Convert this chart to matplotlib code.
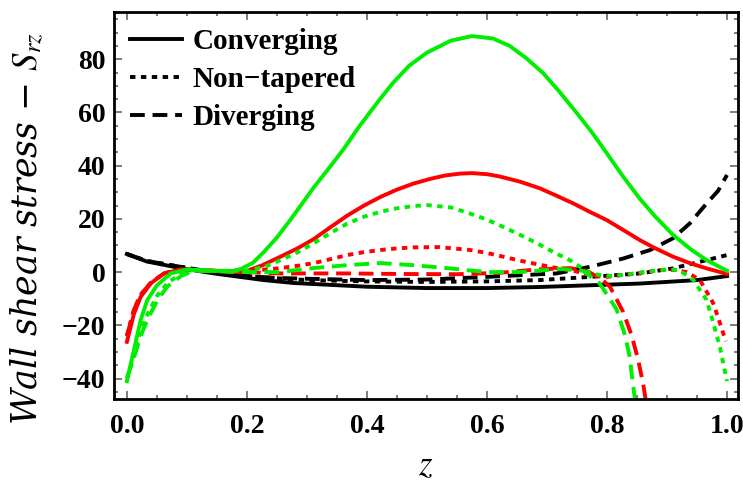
import numpy as np
import matplotlib.pyplot as plt
from matplotlib.ticker import MultipleLocator

# ---- data ----
# green
zg_conv = [0, 0.012, 0.023, 0.034, 0.05, 0.073, 0.1, 0.145, 0.175, 0.19, 0.21, 0.228, 0.25,
           0.273, 0.312, 0.34, 0.362, 0.388, 0.42, 0.443, 0.47, 0.5, 0.54, 0.575, 0.61, 0.638,
           0.665, 0.694, 0.72, 0.75, 0.775, 0.794, 0.825, 0.855, 0.88, 0.91, 0.94, 0.966, 1.0]
vg_conv = [-41, -29, -18, -10.5, -5, -0.5, 1, 0.5, 0.3, 1.2, 3.5, 7.5, 13, 19.8, 32, 40, 46.5,
           55, 64.5, 71, 77.5, 82.5, 87, 88.7, 87.8, 85, 80.5, 74.7, 68, 59.7, 52.5, 46.5,
           36.5, 27.5, 21, 14, 8.5, 4.5, 0.5]
zg_flat = [0, 0.012, 0.023, 0.034, 0.05, 0.067, 0.09, 0.11, 0.15, 0.2, 0.23, 0.256, 0.285,
           0.312, 0.34, 0.367, 0.395, 0.423, 0.45, 0.478, 0.5, 0.54, 0.572, 0.6, 0.627, 0.655,
           0.683, 0.71, 0.738, 0.772, 0.8, 0.83, 0.86, 0.9, 0.92, 0.944, 0.966, 0.977, 0.988,
           1.0]
vg_flat = [-40, -31, -22, -16, -9, -4.3, -0.5, 0.8, 0.5, 0.5, 2, 4.5, 7.5, 10.9, 14.8, 18.2,
           20.8, 22.7, 24, 24.8, 25.2, 24.3, 22, 19.7, 17, 14, 10.9, 7.6, 4.5, -0.5, -1.5, -1,
           0, 1, 0.8, -3, -10.5, -19, -28, -41]
zg_div = [0, 0.012, 0.023, 0.034, 0.05, 0.067, 0.09, 0.11, 0.15, 0.2, 0.255, 0.31, 0.367,
          0.422, 0.477, 0.533, 0.6, 0.655, 0.722, 0.76, 0.78, 0.788, 0.816, 0.83, 0.838,
          0.843, 0.848]
vg_div = [-40, -32, -24, -18, -11, -5.5, -1.5, 0.5, 0.3, 0, 0, 1.5, 2.6, 3.4, 2.6, 1.5, 0,
          0, 1.2, 0.5, -3, -4.3, -14, -23.7, -32, -41.7, -50]

# red
zr_conv = [0, 0.012, 0.023, 0.04, 0.062, 0.09, 0.145, 0.19, 0.2, 0.225, 0.256, 0.285, 0.312,
           0.34, 0.367, 0.395, 0.423, 0.45, 0.478, 0.505, 0.53, 0.555, 0.575, 0.6, 0.62,
           0.655, 0.688, 0.715, 0.744, 0.77, 0.8, 0.828, 0.855, 0.88, 0.91, 0.94, 0.966, 1.0]
vr_conv = [-26.2, -15.5, -9.3, -4.2, -0.5, 1, 0.5, 0, 0.5, 2.5, 5.8, 9, 12.5, 17, 21.2, 25,
           28.3, 31, 33.3, 35, 36.3, 37, 37.2, 36.8, 36, 34, 31.5, 28.8, 25.8, 22.8, 19.5,
           15.7, 12, 9, 5.8, 3.2, 1.4, -0.7]
zr_flat = [0, 0.012, 0.023, 0.04, 0.062, 0.09, 0.15, 0.2, 0.256, 0.285, 0.312, 0.34, 0.367,
           0.395, 0.423, 0.45, 0.478, 0.52, 0.572, 0.6, 0.627, 0.655, 0.683, 0.714, 0.744,
           0.78, 0.8, 0.85, 0.89, 0.915, 0.933, 0.955, 0.977, 0.988, 0.998]
vr_flat = [-24, -14, -8.5, -4, -0.5, 1, 0.5, 0.3, 1.5, 2.4, 3.4, 4.9, 6.4, 7.5, 8.3, 8.9,
           9.3, 9.4, 8.3, 7.2, 5.8, 4.3, 3, 1.6, 0.5, -1.5, -1.8, -0.5, 0.8, 0.8, 0, -3,
           -11.7, -19, -26]
zr_div = [0, 0.012, 0.023, 0.04, 0.062, 0.09, 0.15, 0.2, 0.255, 0.367, 0.45, 0.55, 0.62,
          0.683, 0.738, 0.766, 0.79, 0.805, 0.827, 0.841, 0.852, 0.86, 0.866]
vr_div = [-24, -14, -8.5, -4, -0.5, 1, 0.3, 0, -0.5, -0.5, -0.7, -0.8, -0.3, 1, 1.5, 0.5,
          -2.5, -5.5, -15, -23.7, -33, -41.7, -50]

# black
zk_conv = [0, 0.033, 0.089, 0.145, 0.228, 0.278, 0.4, 0.5, 0.6, 0.688, 0.855, 0.95, 1.0]
vk_conv = [6.8, 4, 1.5, -0.5, -3, -4.1, -5.5, -6, -6, -5.6, -4.3, -3, -1.5]
zk_flat = [0, 0.033, 0.089, 0.145, 0.2, 0.25, 0.3, 0.4, 0.5, 0.6, 0.688, 0.772, 0.855, 0.91,
           0.966, 1.0]
vk_flat = [6.8, 4.2, 2, 0, -1.5, -2.3, -3, -3.5, -3.7, -3.5, -3, -1.8, -0.5, 1.4, 4.5, 6.4]
zk_div = [0, 0.033, 0.089, 0.145, 0.2, 0.25, 0.3, 0.4, 0.5, 0.6, 0.716, 0.772, 0.827, 0.872,
          0.91, 0.938, 0.966, 0.985, 1.0]
vk_div = [6.8, 4.2, 2, 0, -1.5, -2.2, -2.5, -3, -2.8, -1.8, -0.5, 2, 5.1, 8.3, 12.7, 18.3,
          25.8, 30.5, 36.5]

labels = ['Converging', 'Non\u2212tapered', 'Diverging']

GREEN = '#00ee00'
RED = '#ff0000'
BLACK = '#000000'

plt.rcParams['font.family'] = ['Liberation Serif', 'DejaVu Serif']
plt.rcParams['mathtext.fontset'] = 'stix'

fig = plt.figure(figsize=(7.43, 4.86), dpi=100)
ax = fig.add_axes([0.153, 0.179, 0.840, 0.796])

lw = 2.8
dot = (0, (1.4, 1.4))
dash = (0, (3.8, 2.0))

ax.plot(zk_conv, vk_conv, color=BLACK, lw=lw, label=labels[0])
ax.plot(zk_flat, vk_flat, color=BLACK, lw=lw, ls=dot, label=labels[1])
ax.plot(zk_div, vk_div, color=BLACK, lw=lw, ls=dash, label=labels[2])

ax.plot(zr_conv, vr_conv, color=RED, lw=lw)
ax.plot(zr_flat, vr_flat, color=RED, lw=lw, ls=dot)
ax.plot(zr_div, vr_div, color=RED, lw=lw, ls=dash)

ax.plot(zg_conv, vg_conv, color=GREEN, lw=lw)
ax.plot(zg_flat, vg_flat, color=GREEN, lw=lw, ls=dot)
ax.plot(zg_div, vg_div, color=GREEN, lw=lw, ls=dash)

ax.set_xlim(-0.022, 1.018)
ax.set_ylim(-47.7, 97.7)

ax.xaxis.set_minor_locator(MultipleLocator(0.05))
ax.yaxis.set_minor_locator(MultipleLocator(5))
ax.set_xticks([0, 0.2, 0.4, 0.6, 0.8, 1.0])
ax.set_xticklabels(['0.0', '0.2', '0.4', '0.6', '0.8', '1.0'])
ax.set_yticks([-40, -20, 0, 20, 40, 60, 80])
ax.set_yticklabels(['\u221240', '\u221220', '0', '20', '40', '60', '80'])

ax.tick_params(which='both', direction='in', top=True, right=True, color='#666666',
               labelsize=20, width=1.2)
ax.tick_params(axis='x', which='major', length=6, pad=11)
ax.tick_params(axis='y', which='major', length=6, pad=6)
ax.tick_params(which='minor', length=3)
for t in ax.get_xticklabels() + ax.get_yticklabels():
    t.set_fontweight('bold')
for s in ax.spines.values():
    s.set_linewidth(2)

ax.set_xlabel('$z$', fontsize=25, labelpad=8)
ax.set_ylabel('Wall shear stress \u2212 $S_{rz}$', fontsize=25, style='italic',
              family=['DejaVu Serif'], ha='center', va='center')
ax.yaxis.set_label_coords(-0.138, 0.44)

leg = ax.legend(loc='upper left', frameon=False, handlelength=1.8, handletextpad=0.35,
                labelspacing=0.38, borderaxespad=0.15,
                prop={'size': 21, 'weight': 'bold'})

fig.savefig('out.png', dpi=100)
